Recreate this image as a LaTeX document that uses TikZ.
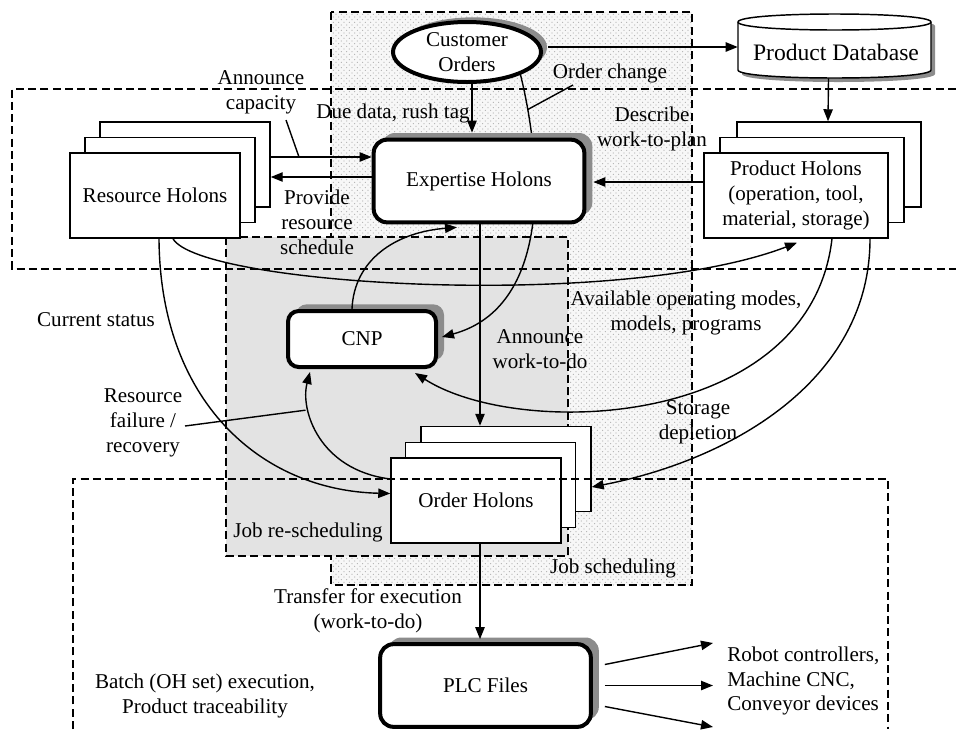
\documentclass[tikz,border=0pt]{standalone}
\usepackage{fontspec}
\setmainfont{Liberation Serif}
\usetikzlibrary{arrows.meta,calc,shadows,shapes.geometric,patterns}
% fine staggered dot screen for the scheduling area
\pgfdeclarepatternformonly{stipple}{\pgfqpoint{-1pt}{-1pt}}{\pgfqpoint{5pt}{5pt}}{\pgfqpoint{4pt}{4pt}}{%
  \pgfpathcircle{\pgfqpoint{0pt}{0pt}}{0.45pt}%
  \pgfpathcircle{\pgfqpoint{2pt}{2pt}}{0.45pt}%
  \pgfusepath{fill}}
\begin{document}
\begin{tikzpicture}[x=0.75pt,y=-0.75pt,
  every node/.style={font=\fontsize{15.8}{18.6}\selectfont, inner sep=0pt},
  lbl/.style={align=center},
  frame/.style={dash pattern=on 6pt off 3.2pt, line width=1.1pt},
  holon/.style={draw, fill=white, line width=1.1pt, minimum width=127.5pt, minimum height=63.75pt},
  keybox/.style={draw, fill=white, line width=3pt, rounded corners=10pt,
    general shadow={fill=black!45, shadow xshift=6pt, shadow yshift=5pt}},
  link/.style={line width=1.05pt},
  arr/.style={link, -{Triangle[length=9pt,width=7pt]}},
]
\useasboundingbox (0,0) rectangle (956,729);
\fill[white] (0,0) rectangle (956,729);

% scheduling area (dotted) and re-scheduling area (grey)
\fill[black!3] (331,12) rectangle (692,585);
\fill[pattern=stipple, pattern color=black!30] (331,12) rectangle (692,585);
\draw[frame] (331,12) rectangle (692,585);
\fill[black!11] (226,237) rectangle (568,556);
\draw[frame] (226,237) rectangle (568,556);

% resource holons
\node[holon] (res3) at (185,164.5) {};
\node[holon] (res2) at (170,180) {};
\node[holon] (res1) at (155,195.5) {Resource Holons};

% product holons
\node[holon, minimum width=138pt] (prod3) at (829,164.5) {};
\node[holon, minimum width=138pt] (prod2) at (812,180) {};
\node[holon, minimum width=138pt, lbl] (prod1) at (796,195.5) {Product Holons\\(operation, tool,\\material, storage)};

% order holons
\node[holon] (ord3) at (506,469) {};
\node[holon] (ord2) at (490.5,485) {};
\node[holon] (ord1) at (476,500.5) {Order Holons};

% customer orders
\node[ellipse, draw, fill=white, line width=3pt, minimum width=111pt, minimum height=45pt, lbl,
  general shadow={fill=black!45, shadow xshift=4.5pt, shadow yshift=3.5pt}] (cust) at (467,52) {Customer\\Orders};

% product database (cylinder)
\node[minimum width=144.75pt, minimum height=48pt] (db) at (834.5,46) {};
\begin{scope}[shift={(4,4)}]
  \fill[black!45] (738,22) -- (738,70) .. controls (738,80.67) and (931,80.67) .. (931,70)
    -- (931,22) .. controls (931,11.33) and (738,11.33) .. (738,22) -- cycle;
\end{scope}
\draw[fill=white, line width=1.1pt] (738,22) -- (738,70) .. controls (738,80.67) and (931,80.67) .. (931,70)
    -- (931,22) .. controls (931,11.33) and (738,11.33) .. (738,22) -- cycle;
\draw[line width=1.1pt] (738,22) .. controls (738,32.67) and (931,32.67) .. (931,22);
\node[font=\fontsize{17.7}{21}\selectfont] (dbtext) at (836,52) {Product Database};

% CNP and PLC files
\node[keybox, rounded corners=8pt, minimum width=111pt, minimum height=42pt] (cnp) at (362,339) {CNP};
\node[keybox, minimum width=158pt, minimum height=62pt] (plc) at (485.5,685.5) {PLC Files};

% order change: runs behind the expertise holons down to the CNP
\draw[arr] (cust.-23) .. controls +(28,116) and +(99,-27) .. coordinate[pos=0.1] (chgpt) ($(cnp.east)+(4,-2)$);

\node[keybox, minimum width=158pt, minimum height=62pt] (expert) at (479,181) {Expertise Holons};

% connectors
\draw[arr] ($(cust.east)+(5,-5)$) -- ($(db.west)+(0,1)$);
\draw[arr] ($(cust.south)+(5,0)$) -- ($(expert.north)+(-7,-5)$);
\draw[arr] ($(db.south)+(-6,0)$) -- ($(prod3.north)+(-1,0)$);
\draw[arr] ($(res3.east)+(0,-7.5)$) -- coordinate[pos=0.28] (capjoin) ($(expert.west)+(0,-24)$);
\draw[arr] ($(expert.west)+(0,-4)$) -- ($(res3.east)+(0,12.5)$);
\draw[arr] ($(prod1.west)+(0,-13.5)$) -- ($(expert.east)+(7,1)$);
\draw[arr] ($(res1.south)+(18,0)$) .. controls +(27,47) and +(-177,68) .. ($(prod1.south)+(1,4)$);
\draw[arr] ($(res1.south)+(4,0)$) .. controls +(1,162) and +(-130,-3) .. ($(ord1.west)+(0,-7)$);
\draw[arr] ($(ord1.west)+(0,-21.5)$) .. controls +(-71,-9) and +(-10,38) .. coordinate[pos=0.7] (failpt) ($(cnp.south)+(-52,3)$);
\draw[arr] ($(cnp.north)+(-10,0)$) .. controls +(2,-49) and +(-62,5) .. ($(expert.south)+(-22,3)$);
\draw[arr] ($(expert.south)+(1,0)$) -- ($(ord3.north)+(-26,0)$);
\draw[arr] ($(prod1.south)+(36,0)$) .. controls +(-22,190) and +(105,67) .. ($(cnp.south)+(53,4)$);
\draw[arr] ($(prod1.south)+(74,0)$) .. controls +(0,142) and +(139,-27) .. ($(ord3.east)+(0,18)$);
\draw[arr] ($(ord1.south)+(4,0)$) -- ($(plc.north)+(-5.5,-3)$);

\coordinate (out1) at (713,643);
\coordinate (out2) at (713,685.5);
\coordinate (out3) at (713,727);
\draw[arr] ($(plc.east)+(12,-21)$) -- (out1);
\draw[arr] ($(plc.east)+(12,0)$) -- (out2);
\draw[arr] ($(plc.east)+(12,21)$) -- (out3);

% holon layer frame and shop-floor frame
\draw[frame] (956,89) -- (12,89) -- (12,269) -- (956,269);
\draw[frame] (73,729) -- (73,479) -- (888,479) -- (888,729);

% labels
\node[lbl] (cap) at (261,92) {Announce\\capacity};
\draw[link] ($(cap.center)+(25,28)$) -- (capjoin);
\node[lbl] (prov) at (317,222) {Provide\\resource\\schedule};
\node (due) at (393,113) {Due data, rush tag};
\node (chg) at (610,73) {Order change};
\draw[link] ($(chg.center)+(-37,12)$) -- (chgpt);
\node[lbl] (descr) at (652,129) {Describe\\work-to-plan};
\node (curst) at (96,320) {Current status};
\node[lbl] (avail) at (686,313) {Available operating modes,\\models, programs};
\node[lbl] (annw) at (540,349) {Announce\\work-to-do};
\node[lbl] (fail) at (143,423) {Resource\\failure /\\recovery};
\draw[link] ($(fail.center)+(42,3)$) -- ($(failpt)+(-4,0)$);
\node[lbl] (stor) at (698,422) {Storage\\depletion};
\node (resched) at (308,532) {Job re-scheduling};
\node (sched) at (613,568) {Job scheduling};
\node[lbl] (xfer) at (368,611) {Transfer for execution\\(work-to-do)};
\node[lbl] (batch) at (205,696) {Batch (OH set) execution,\\Product traceability};
\node[align=left, anchor=west] (robot) at (727,681) {Robot controllers,\\Machine CNC,\\Conveyor devices};
\end{tikzpicture}
\end{document}
